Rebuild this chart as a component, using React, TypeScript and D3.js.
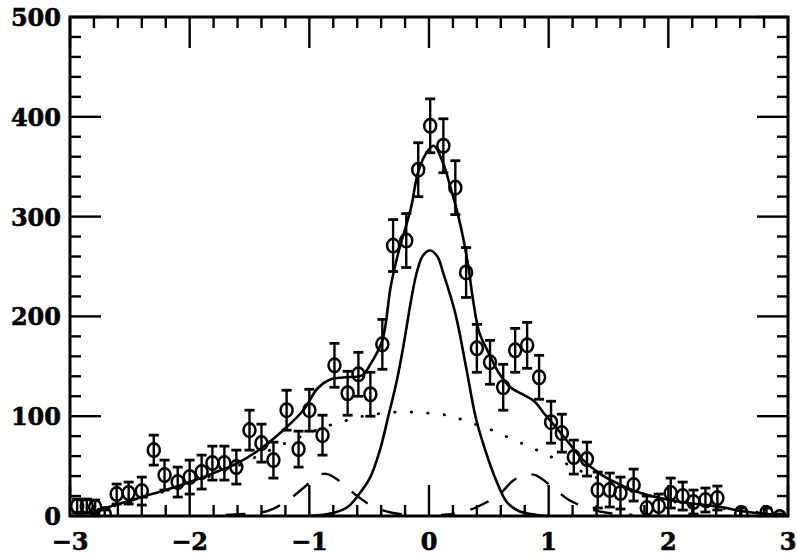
import React from 'react';
import * as d3 from 'd3';

// measured points (x, counts) with error half-widths
const pointX = [
  -2.94, -2.86, -2.79, -2.71, -2.61, -2.51, -2.40, -2.30, -2.21, -2.10,
  -2.00, -1.90, -1.81, -1.71, -1.61, -1.50, -1.40, -1.30, -1.19, -1.09,
  -1.00, -0.89, -0.79, -0.68, -0.59, -0.49, -0.39, -0.30, -0.19, -0.09,
  0.01, 0.12, 0.22, 0.31, 0.40, 0.51, 0.62, 0.72, 0.82, 0.92,
  1.02, 1.11, 1.21, 1.32, 1.41, 1.51, 1.60, 1.71, 1.82, 1.92,
  2.02, 2.12, 2.21, 2.31, 2.41, 2.61, 2.82, 2.93,
];
const pointY = [
  10, 10, 9, 2, 22, 23, 25, 66, 41, 34,
  39, 44, 53, 53, 49, 86, 73, 56, 106, 67,
  106, 81, 151, 123, 142, 122, 172, 271, 276, 347,
  391, 371, 329, 244, 168, 154, 129, 166, 171, 139,
  94, 83, 59, 57, 26, 26, 23, 31, 8, 10,
  23, 20, 14, 16, 18, 3, 3, -1,
];
const pointErr = [
  7, 7, 7, 4, 10, 11, 14, 15, 15, 15,
  17, 17, 17, 17, 17, 20, 19, 18, 20, 18,
  21, 20, 22, 22, 22, 22, 25, 26, 27, 27,
  27, 27, 27, 25, 24, 22, 23, 22, 23, 22,
  21, 19, 17, 17, 18, 17, 16, 16, 12, 12,
  15, 14, 12, 12, 12, 5, 5, 3,
];

// total fit (solid)
const fitX = [
  -2.95, -2.8, -2.7, -2.6, -2.5, -2.4, -2.2, -2.0, -1.8, -1.6,
  -1.4, -1.2, -1.05, -0.93, -0.82, -0.7, -0.56, -0.49, -0.39, -0.32,
  -0.26, -0.15, -0.09, -0.01, 0.04, 0.12, 0.18, 0.24, 0.29, 0.33,
  0.37, 0.42, 0.5, 0.58, 0.68, 0.78, 0.88, 0.96, 1.06, 1.17,
  1.28, 1.42, 1.52, 1.77, 2.1, 2.44, 2.6, 2.83, 2.95,
];
const fitY = [
  2, 4, 8, 12, 15, 19, 26, 34, 43, 53,
  68, 88, 106, 128, 137, 139, 141, 152, 176, 230,
  262, 309, 345, 366, 371, 353, 329, 303, 276, 249,
  215, 184, 163, 144, 129, 122, 115, 103, 89, 73,
  57, 43, 36, 23, 14, 9, 5, 2, 1,
];

// narrow central component (solid)
const coreX = [
  -1.0, -0.8, -0.68, -0.59, -0.49, -0.41, -0.34, -0.27, -0.21, -0.15,
  -0.1, -0.05, 0.01, 0.07, 0.12, 0.22, 0.31, 0.39, 0.47, 0.56,
  0.65, 0.75, 0.9, 1.0,
];
const coreY = [
  0, 3, 9, 21, 39, 66, 100, 135, 173, 216,
  245, 261, 266, 260, 243, 203, 149, 99, 66, 36,
  14, 5, 1, 0,
];

// broad component (dotted)
const broadX = [
  -2.9, -2.5, -2.0, -1.6, -1.4, -1.2, -1.02, -0.88, -0.74, -0.59,
  -0.45, -0.3, -0.14, 0, 0.15, 0.29, 0.43, 0.57, 0.71, 0.85,
  0.97, 1.12, 1.25, 1.5, 1.8, 2.1, 2.5, 2.9,
];
const broadY = [
  3, 14, 33, 50, 62, 73, 82, 89, 94, 99,
  102, 104, 104, 103, 101, 96, 90, 84, 76, 69,
  62, 54, 46, 34, 22, 13, 7, 2,
];

// side bumps (dashed)
const leftBumpX = [-1.7, -1.55, -1.35, -1.2, -1.05, -0.92, -0.85, -0.76, -0.6, -0.46, -0.3, -0.15];
const leftBumpY = [1, 2, 5, 14, 28, 41, 42, 36, 20, 9, 3, 1];
const rightBumpX = [0.1, 0.25, 0.4, 0.58, 0.71, 0.8, 0.89, 1.03, 1.17, 1.35, 1.5, 1.7];
const rightBumpY = [1, 3, 9, 21, 36, 41, 41, 29, 16, 7, 3, 1];

const xTicks = [-3, -2, -1, 0, 1, 2, 3];
const yTicks = [0, 100, 200, 300, 400, 500];

const W = 797;
const H = 558;
const left = 70;
const right = 788;
const top = 17;
const bottom = 516;

const zip = (xs: number[], ys: number[]) => xs.map((x, i) => [x, ys[i]] as [number, number]);

export default function App() {
  const x = d3.scaleLinear().domain([-3, 3]).range([left, right]);
  const y = d3.scaleLinear().domain([0, 500]).range([bottom, top]);

  const line = d3
    .line<[number, number]>()
    .x((d) => x(d[0]))
    .y((d) => y(d[1]))
    .curve(d3.curveCatmullRom.alpha(0.5));

  const xMinor = d3.range(-3, 3.001, 0.2).filter((v) => Math.abs(v - Math.round(v)) > 0.01);
  const yMinor = d3.range(0, 500.1, 20).filter((v) => v % 100 !== 0);

  const major = 31;
  const minor = 11;
  const font = '"DejaVu Serif", serif';

  return (
    <svg width={W} height={H} style={{ position: 'absolute', left: 0, top: 0, background: '#fff' }}>
      <defs>
        <clipPath id="plot">
          <rect x={left} y={top} width={right - left} height={bottom - top} />
        </clipPath>
      </defs>
      <rect width={W} height={H} fill="#fff" />

      <g clipPath="url(#plot)" fill="none" stroke="#000">
        <path d={line(zip(broadX, broadY)) || ''} strokeWidth={2.8} strokeDasharray="0.5 16" strokeLinecap="round" />
        <path d={line(zip(leftBumpX, leftBumpY)) || ''} strokeWidth={2.4} strokeDasharray="20 16" />
        <path d={line(zip(rightBumpX, rightBumpY)) || ''} strokeWidth={2.4} strokeDasharray="20 16" strokeDashoffset={6} />
        <path d={line(zip(coreX, coreY)) || ''} strokeWidth={2.6} />
        <path d={line(zip(fitX, fitY)) || ''} strokeWidth={2.6} />

        {pointX.map((px, i) => {
          const cx = x(px);
          const cy = y(pointY[i]);
          const y1 = y(pointY[i] + pointErr[i]);
          const y2 = y(pointY[i] - pointErr[i]);
          return (
            <g key={i} strokeWidth={2.4}>
              <line x1={cx} x2={cx} y1={y1} y2={y2} />
              <line x1={cx - 5} x2={cx + 5} y1={y1} y2={y1} strokeWidth={2.8} />
              <line x1={cx - 5} x2={cx + 5} y1={y2} y2={y2} strokeWidth={2.8} />
              <ellipse cx={cx} cy={cy} rx={6} ry={6.8} strokeWidth={2.5} />
            </g>
          );
        })}
      </g>

      <g stroke="#000" strokeWidth={2.4}>
        {xTicks.map((t) => (
          <g key={'xm' + t}>
            <line x1={x(t)} x2={x(t)} y1={bottom} y2={bottom - major} />
            <line x1={x(t)} x2={x(t)} y1={top} y2={top + major} />
          </g>
        ))}
        {xMinor.map((t, i) => (
          <g key={'xn' + i}>
            <line x1={x(t)} x2={x(t)} y1={bottom} y2={bottom - minor} />
            <line x1={x(t)} x2={x(t)} y1={top} y2={top + minor} />
          </g>
        ))}
        {yTicks.map((t) => (
          <g key={'ym' + t}>
            <line x1={left} x2={left + major} y1={y(t)} y2={y(t)} />
            <line x1={right} x2={right - major} y1={y(t)} y2={y(t)} />
          </g>
        ))}
        {yMinor.map((t, i) => (
          <g key={'yn' + i}>
            <line x1={left} x2={left + minor} y1={y(t)} y2={y(t)} />
            <line x1={right} x2={right - minor} y1={y(t)} y2={y(t)} />
          </g>
        ))}
      </g>

      <rect x={left} y={top} width={right - left} height={bottom - top} fill="none" stroke="#000" strokeWidth={3} />

      <g fontFamily={font} fontWeight="bold" fontSize={24} fill="#000" stroke="#000" strokeWidth={0.6}>
        {yTicks.map((t) => (
          <text key={'yl' + t} x={61} y={y(t) + 9} textAnchor="end">
            {t}
          </text>
        ))}
        {xTicks.map((t) => (
          <text key={'xl' + t} x={x(t)} y={550} textAnchor="middle">
            {t < 0 ? '\u2212' + Math.abs(t) : String(t)}
          </text>
        ))}
      </g>
    </svg>
  );
}
